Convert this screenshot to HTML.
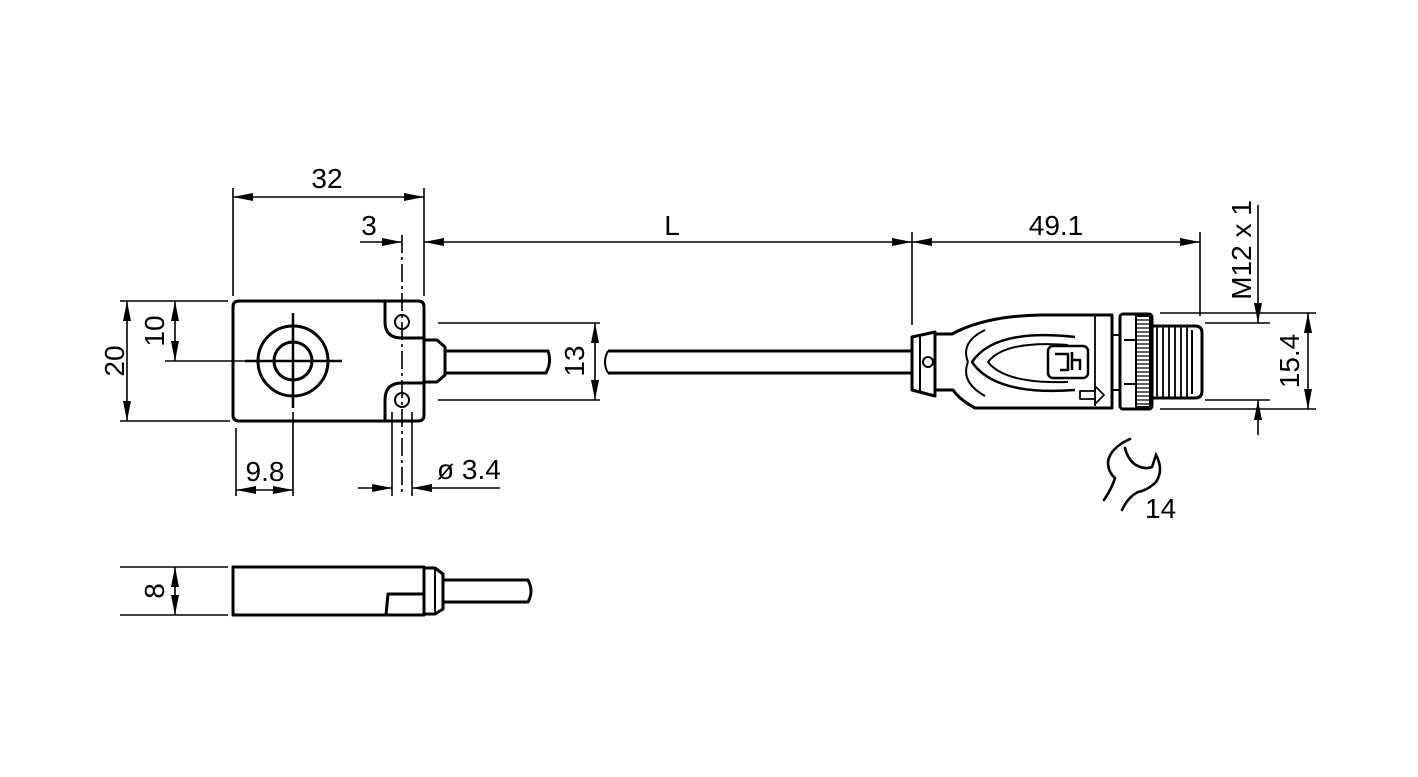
<!DOCTYPE html>
<html><head><meta charset="utf-8"><style>
html,body{margin:0;padding:0;background:#fff}
svg{display:block}
text{font-family:"Liberation Sans",Arial,sans-serif;font-size:28px;fill:#000}
</style></head><body>
<svg width="1418" height="777" viewBox="0 0 1418 777" xmlns="http://www.w3.org/2000/svg">
<defs>
<marker id="a" viewBox="0 0 20 8" refX="20" refY="4" markerWidth="20" markerHeight="8" markerUnits="userSpaceOnUse" orient="auto-start-reverse"><path d="M0,0 L20,4 L0,8 Z" fill="#000"/></marker>
</defs>
<g fill="none" stroke="#000" stroke-width="1.6">
<line x1="233" y1="188" x2="233" y2="296"/>
<line x1="424" y1="188" x2="424" y2="296"/>
<line x1="402" y1="235" x2="402" y2="496" stroke-dasharray="18,4,3,4"/>
<line x1="912" y1="232" x2="912" y2="325"/>
<line x1="1200" y1="232" x2="1200" y2="316"/>
<line x1="120" y1="301" x2="228" y2="301"/>
<line x1="120" y1="421" x2="230" y2="421"/>
<line x1="165" y1="361" x2="245" y2="361"/>
<line x1="438" y1="323" x2="600" y2="323"/>
<line x1="438" y1="400" x2="600" y2="400"/>
<line x1="236" y1="428" x2="236" y2="496"/>
<line x1="293" y1="412" x2="293" y2="496"/>
<line x1="392" y1="412" x2="392" y2="496"/>
<line x1="412" y1="412" x2="412" y2="496"/>
<line x1="1160" y1="313" x2="1316" y2="313"/>
<line x1="1160" y1="409" x2="1316" y2="409"/>
<line x1="1205" y1="323" x2="1270" y2="323"/>
<line x1="1205" y1="400" x2="1270" y2="400"/>
<line x1="233" y1="197" x2="424" y2="197" marker-start="url(#a)" marker-end="url(#a)"/>
<line x1="360" y1="242" x2="402" y2="242" marker-end="url(#a)"/>
<line x1="424" y1="242" x2="912" y2="242" marker-start="url(#a)" marker-end="url(#a)"/>
<line x1="912" y1="242" x2="1200" y2="242" marker-start="url(#a)" marker-end="url(#a)"/>
<line x1="127" y1="301" x2="127" y2="421" marker-start="url(#a)" marker-end="url(#a)"/>
<line x1="175" y1="301" x2="175" y2="361" marker-start="url(#a)" marker-end="url(#a)"/>
<line x1="595" y1="323" x2="595" y2="400" marker-start="url(#a)" marker-end="url(#a)"/>
<line x1="236" y1="490" x2="293" y2="490" marker-start="url(#a)" marker-end="url(#a)"/>
<line x1="358" y1="488" x2="392" y2="488" marker-end="url(#a)"/>
<line x1="500" y1="488" x2="412" y2="488" marker-end="url(#a)"/>
<line x1="1258" y1="205" x2="1258" y2="323" marker-end="url(#a)"/>
<line x1="1258" y1="435" x2="1258" y2="400" marker-end="url(#a)"/>
<line x1="1308" y1="313" x2="1308" y2="409" marker-start="url(#a)" marker-end="url(#a)"/>
<line x1="120" y1="567" x2="228" y2="567"/>
<line x1="120" y1="615" x2="228" y2="615"/>
<line x1="175" y1="567" x2="175" y2="615" marker-start="url(#a)" marker-end="url(#a)"/>
</g>
<g fill="none" stroke="#000" stroke-width="3" stroke-linejoin="round">
<path d="M239,301 H385 V322 Q385,338 402,338 H424 V383 H402 Q385,383 385,400 V421 H239 Q233,421 233,415 V307 Q233,301 239,301 Z"/>
<path d="M385,301 H418 Q424,301 424,307 V338"/>
<path d="M424,383 V415 Q424,421 418,421 H385"/>
<circle cx="402" cy="322" r="7" stroke-width="2"/>
<circle cx="402" cy="400" r="7" stroke-width="2"/>
<circle cx="293" cy="361" r="35"/>
<circle cx="293" cy="361" r="19"/>
<line x1="245" y1="361" x2="342" y2="361" stroke-width="2.5"/>
<line x1="293" y1="313" x2="293" y2="408" stroke-width="2.5"/>
<path d="M424,340 H437 L445,347 V375 L437,382 H424"/>
<path d="M445,351 H548 Q552,362 546,373 H445"/>
<path d="M608,351 Q602,362 608,373" stroke-width="2"/>
<line x1="608" y1="351" x2="912" y2="351"/>
<line x1="608" y1="373" x2="912" y2="373"/>
<!-- connector -->
<path d="M912,337 L935,332 V396 L912,390 Z"/>
<line x1="920" y1="335" x2="920" y2="392" stroke-width="2"/>
<circle cx="928" cy="362" r="5" stroke-width="2"/>
<path d="M935,334 H952 Q985,316 1040,315 H1112 V408 H975 Q960,400 953,390 H935"/>
<path d="M968,362 Q960,342 985,330" stroke-width="2"/>
<path d="M968,362 Q960,382 985,396" stroke-width="2"/>
<path d="M1075,337 Q995,328 972,362 Q995,396 1075,390" stroke-width="2.5"/>
<path d="M1068,345 Q1005,340 988,362 Q1005,384 1068,382" stroke-width="2"/>
<rect x="1048" y="346" width="40" height="32" rx="5" stroke-width="2.5"/>
<path d="M1055,354 H1068 V370 H1060 M1072,352 V370 M1072,360 H1080 V370" stroke-width="2.5"/>
<path d="M1080,391 H1095 V386 L1104,395 L1095,404 V399 H1080 Z" stroke-width="1.8"/>
<line x1="1095" y1="316" x2="1095" y2="406" stroke-width="1.8"/>
<line x1="1112" y1="335" x2="1120" y2="335" stroke-width="2"/>
<line x1="1112" y1="390" x2="1120" y2="390" stroke-width="2"/>
<rect x="1120" y="314" width="32" height="95" rx="3"/>
<line x1="1124" y1="340" x2="1136" y2="340" stroke-width="2"/>
<line x1="1124" y1="384" x2="1136" y2="384" stroke-width="2"/>
<rect x="1136" y="316" width="14" height="91" stroke-width="2"/>
<path d="M1152,326 H1195 Q1202,326 1202,333 V391 Q1202,398 1195,398 H1152"/>
<line x1="1192" y1="330" x2="1192" y2="394" stroke-width="2"/>
</g>
<g stroke="#000" stroke-width="1.2">
<path d="M1137,320 H1149 M1137,324 H1149 M1137,328 H1149 M1137,332 H1149 M1137,336 H1149 M1137,340 H1149 M1137,344 H1149 M1137,348 H1149 M1137,352 H1149 M1137,356 H1149 M1137,360 H1149 M1137,364 H1149 M1137,368 H1149 M1137,372 H1149 M1137,376 H1149 M1137,380 H1149 M1137,384 H1149 M1137,388 H1149 M1137,392 H1149 M1137,396 H1149 M1137,400 H1149 M1137,404 H1149"/>
<path d="M1157,326 V398 M1163,326 V398 M1169,326 V398 M1175,326 V398 M1181,326 V398 M1187,326 V398" stroke-width="1.8"/>
</g>
<g fill="none" stroke="#000" stroke-width="3" stroke-linejoin="round">
<rect x="233" y="567" width="191" height="48"/>
<path d="M386,615 L388,594 H424"/>
<path d="M424,568 H435 L443,574 V609 L435,614 H424"/>
<line x1="435" y1="568" x2="435" y2="614" stroke-width="2"/>
<path d="M443,580 H528 Q534,591 528,602 H443"/>
</g>
<!-- wrench -->
<path d="M1130,439 Q1110,448 1108,462 Q1108,472 1115,478 Q1112,488 1104,500 M1125,448 Q1128,460 1136,465 Q1145,470 1152,467 L1156,455 Q1164,470 1156,482 Q1148,490 1138,492 Q1128,497 1122,510" fill="none" stroke="#000" stroke-width="2.6" stroke-linecap="round"/>
<text x="327" y="188" text-anchor="middle">32</text>
<text x="369" y="235" text-anchor="middle">3</text>
<text x="672" y="235" text-anchor="middle">L</text>
<text x="1056" y="235" text-anchor="middle">49.1</text>
<text x="265" y="481" text-anchor="middle">9.8</text>
<text x="437" y="479">ø 3.4</text>
<text x="1145" y="518">14</text>
<text transform="translate(124,361) rotate(-90)" text-anchor="middle">20</text>
<text transform="translate(164,331) rotate(-90)" text-anchor="middle">10</text>
<text transform="translate(584,361) rotate(-90)" text-anchor="middle">13</text>
<text transform="translate(1299,361) rotate(-90)" text-anchor="middle">15.4</text>
<text transform="translate(1251,250) rotate(-90)" text-anchor="middle">M12 x 1</text>
<text transform="translate(164,591) rotate(-90)" text-anchor="middle">8</text>
</svg>
</body></html>
